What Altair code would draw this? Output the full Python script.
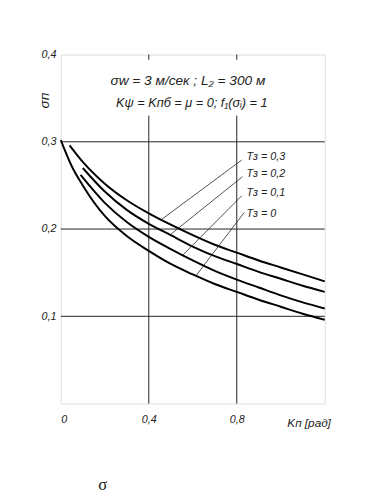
import altair as alt
import pandas as pd

# curve data (K_n [rad] -> sigma_n)
k_t0 = [0.0, 0.05, 0.1, 0.2, 0.3, 0.4, 0.5, 0.6, 0.7, 0.8, 0.9, 1.0, 1.1, 1.2]
s_t0 = [0.302, 0.272, 0.250, 0.215, 0.192, 0.175, 0.160, 0.148, 0.137, 0.128, 0.119, 0.111, 0.103, 0.096]

k_t1 = [0.09, 0.2, 0.3, 0.4, 0.5, 0.6, 0.7, 0.8, 0.9, 1.0, 1.1, 1.2]
s_t1 = [0.262, 0.230, 0.208, 0.191, 0.177, 0.164, 0.152, 0.142, 0.133, 0.124, 0.116, 0.109]

k_t2 = [0.10, 0.2, 0.3, 0.4, 0.5, 0.6, 0.7, 0.8, 0.9, 1.0, 1.1, 1.2]
s_t2 = [0.270, 0.243, 0.222, 0.206, 0.193, 0.180, 0.169, 0.160, 0.151, 0.143, 0.135, 0.128]

k_t3 = [0.04, 0.1, 0.2, 0.3, 0.4, 0.5, 0.6, 0.7, 0.8, 0.9, 1.0, 1.1, 1.2]
s_t3 = [0.296, 0.277, 0.252, 0.233, 0.218, 0.205, 0.193, 0.182, 0.173, 0.164, 0.156, 0.148, 0.140]

# labels and leader lines
label_text = ["Tз = 0,3", "Tз = 0,2", "Tз = 0,1", "Tз = 0"]
label_x = [0.844, 0.844, 0.844, 0.844]
label_y = [0.2825, 0.2635, 0.2410, 0.2175]
leader_x1 = [0.822, 0.826, 0.822, 0.834]
leader_y1 = [0.279, 0.260, 0.238, 0.219]
leader_x2 = [0.458, 0.495, 0.554, 0.613]
leader_y2 = [0.211, 0.193, 0.170, 0.146]

x_ticks = [0.0, 0.4, 0.8]
y_ticks = [0.1, 0.2, 0.3, 0.4]
h_grid = [0.1, 0.2, 0.3]
v_grid = [0.4, 0.8]

FONT = "Liberation Sans"

rows = []
for name, ks, ss in [("0", k_t0, s_t0), ("0.1", k_t1, s_t1), ("0.2", k_t2, s_t2), ("0.3", k_t3, s_t3)]:
    for k, s in zip(ks, ss):
        rows.append({"T": name, "k": k, "s": s})
curves = pd.DataFrame(rows)

xs = alt.Scale(domain=[0, 1.2], nice=False, zero=False)
ys = alt.Scale(domain=[0, 0.4], nice=False, zero=False)

x_axis = alt.Axis(values=x_ticks, labelExpr="replace(format(datum.value, '.1~f'), '.', ',')",
                  title=None, grid=False, ticks=False, domain=False, labelFont=FONT,
                  labelFontStyle="italic", labelFontSize=11, labelPadding=10, labelColor="#222")
y_axis = alt.Axis(values=y_ticks, labelExpr="replace(format(datum.value, '.1f'), '.', ',')",
                  title=None, grid=False, ticks=False, domain=False, labelFont=FONT,
                  labelFontStyle="italic", labelFontSize=11, labelPadding=5, labelColor="#222")

base_axes = alt.Chart(pd.DataFrame({"k": [0.0], "s": [0.0]})).mark_point(opacity=0).encode(
    x=alt.X("k:Q", scale=xs, axis=x_axis),
    y=alt.Y("s:Q", scale=ys, axis=y_axis),
)

hgrid = alt.Chart(pd.DataFrame({"y": h_grid})).mark_rule(color="#222", strokeWidth=1).encode(
    y=alt.Y("y:Q", scale=ys), x=alt.value(0), x2=alt.value(270)
)

vg_rows = []
for v in v_grid:
    vg_rows.append({"x": v, "y1": 0.0, "y2": 0.33})
    vg_rows.append({"x": v, "y1": 0.394, "y2": 0.4})
vgrid = alt.Chart(pd.DataFrame(vg_rows)).mark_rule(color="#222", strokeWidth=1).encode(
    x=alt.X("x:Q", scale=xs), y=alt.Y("y1:Q", scale=ys), y2="y2:Q"
)

lines = alt.Chart(curves).mark_line(color="black", strokeWidth=2, interpolate="monotone").encode(
    x=alt.X("k:Q", scale=xs), y=alt.Y("s:Q", scale=ys), detail="T:N"
)

lab = pd.DataFrame({"text": label_text, "lx": label_x, "ly": label_y,
                    "x1": leader_x1, "y1": leader_y1, "x2": leader_x2, "y2": leader_y2})
leaders = alt.Chart(lab).mark_rule(color="#222", strokeWidth=0.8).encode(
    x=alt.X("x1:Q", scale=xs), y=alt.Y("y1:Q", scale=ys), x2="x2:Q", y2="y2:Q"
)
labels = alt.Chart(lab).mark_text(align="left", baseline="middle", font=FONT, fontStyle="italic",
                                  fontSize=11, color="#222").encode(
    x=alt.X("lx:Q", scale=xs), y=alt.Y("ly:Q", scale=ys), text="text:N"
)

def txt(t, x, y, size=12, angle=0, align="center", font=FONT, style="italic"):
    return alt.Chart(pd.DataFrame({"t": [t]})).mark_text(
        align=align, baseline="middle", font=font, fontStyle=style, fontSize=size,
        angle=angle, color="#222"
    ).encode(x=alt.value(x), y=alt.value(y), text="t:N")

ann1 = txt("σw = 3 м/сек ; L₂ = 300 м", 130, 27, size=14)
ann2 = txt("Kψ = Kпб = μ = 0;  f₁(σᵢ) = 1", 134, 50, size=13)
ytitle = txt("σп", -16, 47, size=14, angle=270)
xtitle = txt("Kп [рад]", 254, 377, size=12)
sigma = txt("σ", 43, 440, size=17, font="Liberation Serif", style="normal")

chart = alt.layer(base_axes, hgrid, vgrid, lines, leaders, labels, ann1, ann2, ytitle, xtitle, sigma).properties(
    width=270, height=357,
    autosize=alt.AutoSizeParams(type="none"),
    padding={"left": 54, "top": 42, "right": 33, "bottom": 92},
).configure_view(stroke="#111", strokeWidth=1.5).configure(background="white")

chart.save("out.html", embed_options={"renderer": "svg", "actions": False})
